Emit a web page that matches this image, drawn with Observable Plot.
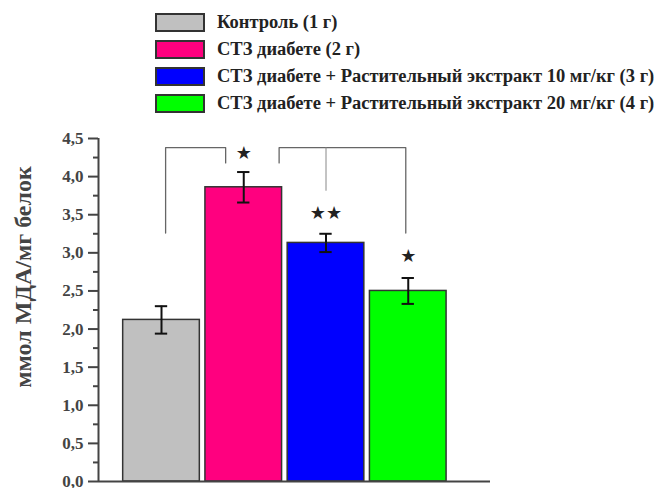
<!DOCTYPE html>
<html><head><meta charset="utf-8">
<script src="https://cdn.jsdelivr.net/npm/d3@7"></script>
<script src="https://cdn.jsdelivr.net/npm/@observablehq/plot@0.6"></script>
<style>
body{margin:0;background:#fff;}
#legend{position:relative;height:118px;width:668px;font-family:"Liberation Serif","Times New Roman",serif;font-weight:bold;color:#222;}
.row{position:absolute;left:155px;height:19px;display:flex;align-items:center;white-space:nowrap;}
.sw{width:46px;height:15px;border:2px solid #333;margin-right:12px;flex:none;}
.lab{font-size:18.5px;}
#chart svg{display:block;}
</style></head><body>
<div id="legend"></div>
<div id="chart"></div>
<script>
const groups = ["Контроль (1 г)", "СТЗ диабете (2 г)", "СТЗ диабете + Растительный экстракт 10 мг/кг (3 г)", "СТЗ диабете + Растительный экстракт 20 мг/кг (4 г)"];
const positions = [1, 2, 3, 4];
const means = [2.12, 3.86, 3.13, 2.50];
const errors = [0.18, 0.20, 0.12, 0.17];
const colors = ["#c0c0c0", "#ff007f", "#0000ff", "#00ff00"];
const stars = ["", "★", "★★", "★"];
const starY = [0, 4.31, 3.52, 2.95];
const yTicks = [0, 0.5, 1, 1.5, 2, 2.5, 3, 3.5, 4, 4.5];
const yMinorTicks = [0.25, 0.75, 1.25, 1.75, 2.25, 2.75, 3.25, 3.75, 4.25];
const bracketLeft = [[1.05, 3.26], [1.05, 4.38], [1.78, 4.38], [1.78, 4.18]];
const bracketRight = [[2.43, 4.18], [2.43, 4.38], [3.97, 4.38], [3.97, 3.26]];
const bracketMiddle = [[3, 4.38], [3, 3.82]];
const legendRowCenters = [22, 49, 76, 103];

const serif = "'Liberation Serif', 'Times New Roman', serif";

const legend = document.getElementById("legend");
groups.forEach((g, i) => {
  const row = document.createElement("div");
  row.className = "row";
  row.style.top = (legendRowCenters[i] - 9.5) + "px";
  const sw = document.createElement("div");
  sw.className = "sw";
  sw.style.background = colors[i];
  const lab = document.createElement("span");
  lab.className = "lab";
  lab.textContent = g;
  row.appendChild(sw); row.appendChild(lab);
  legend.appendChild(row);
});

const data = groups.map((g, i) => ({group: g, pos: positions[i], mean: means[i], err: errors[i], color: colors[i], star: stars[i], starY: starY[i]}));
const half = 0.466, cap = 0.075;
const xDomain = [0.234, 5.0];
const toPts = (arr) => arr.map(([x, y]) => ({x, y}));

const chart = Plot.plot({
  width: 668,
  height: 370,
  marginLeft: 98,
  marginRight: 178,
  marginTop: 20,
  marginBottom: 7,
  style: {fontFamily: serif, fontWeight: "bold", color: "#333", background: "#fff"},
  x: {domain: xDomain, axis: null},
  y: {domain: [0, 4.5]},
  marks: [
    Plot.rectY(data, {x1: d => d.pos - half, x2: d => d.pos + half, y1: 0, y2: "mean", fill: "color", stroke: "#333", strokeWidth: 1.5}),
    Plot.ruleX(data, {x: "pos", y1: d => d.mean - d.err, y2: d => d.mean + d.err, stroke: "#111", strokeWidth: 2}),
    Plot.ruleY(data, {y: d => d.mean + d.err, x1: d => d.pos - cap, x2: d => d.pos + cap, stroke: "#111", strokeWidth: 2}),
    Plot.ruleY(data, {y: d => d.mean - d.err, x1: d => d.pos - cap, x2: d => d.pos + cap, stroke: "#111", strokeWidth: 2}),
    Plot.line(toPts(bracketLeft), {x: "x", y: "y", stroke: "#666", strokeWidth: 1.3}),
    Plot.line(toPts(bracketRight), {x: "x", y: "y", stroke: "#666", strokeWidth: 1.3}),
    Plot.line(toPts(bracketMiddle), {x: "x", y: "y", stroke: "#888", strokeWidth: 1}),
    Plot.text(data.filter(d => d.star), {x: "pos", y: "starY", text: "star", fontSize: 18, fill: "#222", fontFamily: "DejaVu Sans", fontWeight: "normal"}),
    Plot.ruleY([0], {stroke: "#444", strokeWidth: 2}),
    Plot.ruleX([xDomain[0]], {y1: 0, y2: 4.5, stroke: "#444", strokeWidth: 2}),
    Plot.axisY({ticks: yMinorTicks, tickSize: 5, text: null, stroke: "#444", strokeWidth: 2, label: null}),
    Plot.axisY({ticks: yTicks, tickSize: 10, tickPadding: 5, tickFormat: d => d.toFixed(1).replace(".", ","), fontSize: 17, fontFamily: serif, fill: "#444", stroke: "#444", strokeWidth: 2, label: null}),
    Plot.text(["ммол МДА/мг белок"], {frameAnchor: "left", dx: -75, dy: -33, rotate: -90, textAnchor: "middle", fontSize: 24, fontFamily: serif, fill: "#444", text: d => d})
  ]
});
document.getElementById("chart").appendChild(chart);
</script>
</body></html>
